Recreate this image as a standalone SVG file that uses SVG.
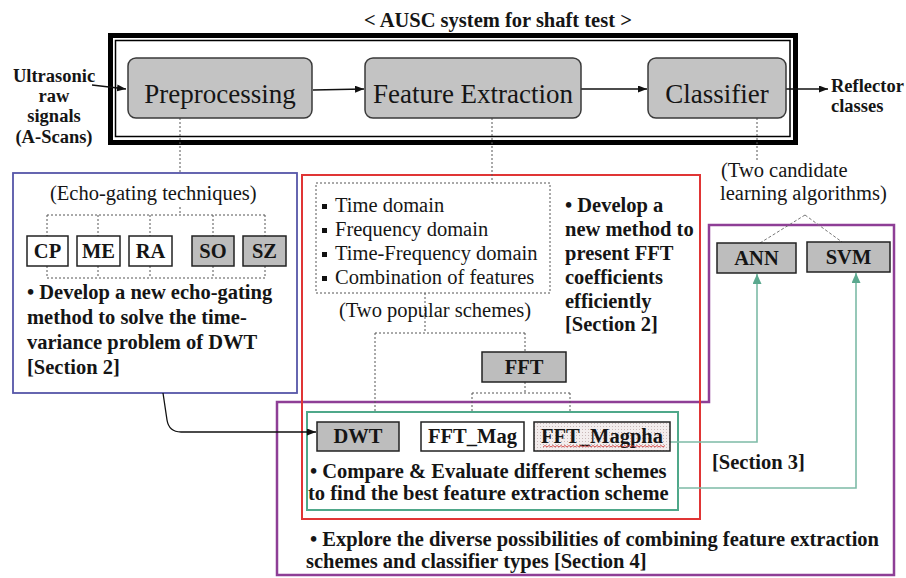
<svg xmlns="http://www.w3.org/2000/svg" width="906" height="578" viewBox="0 0 906 578">
  <defs>
    <style>
      text { font-family: "Liberation Serif", "Times New Roman", serif; fill: #151515; }
      .b { font-weight: bold; }
      .n { font-size: 20.5px; }
      .big { font-size: 27px; }
      .lbl { font-size: 18.5px; font-weight: bold; }
      .mid { text-anchor: middle; }
      .stage { fill: #c3c3c3; stroke: #3a3a3a; stroke-width: 1.5; }
      .box { fill: #ffffff; stroke: #222; stroke-width: 1.5; }
      .gbox { fill: #bdbdbd; stroke: #222; stroke-width: 1.5; }
      .dot { fill: none; stroke: #555; stroke-width: 1; stroke-dasharray: 2 2; }
      .dash { fill: none; stroke: #777; stroke-width: 1; stroke-dasharray: 3 2; }
      .wire { fill: none; stroke: #111; stroke-width: 1.3; }
      .teal { fill: none; stroke: #7dbba7; stroke-width: 1.6; }
    </style>
    <marker id="ah" viewBox="0 0 9 7" refX="9" refY="3.5" markerWidth="9" markerHeight="7" markerUnits="userSpaceOnUse" orient="auto">
      <path d="M0,0 L9,3.5 L0,7 z" fill="#111"/>
    </marker>
    <marker id="ahg" viewBox="0 0 10 9" refX="10" refY="4.5" markerWidth="10" markerHeight="9" markerUnits="userSpaceOnUse" orient="auto">
      <path d="M0,0 L10,4.5 L0,9 z" fill="#5aa88e"/>
    </marker>
    <pattern id="stip" width="3" height="3" patternUnits="userSpaceOnUse">
      <rect width="3" height="3" fill="#f3eded"/>
      <rect width="1" height="1" fill="#c9b8b8"/>
    </pattern>
  </defs>

  <rect width="906" height="578" fill="#ffffff"/>

  <!-- title and system frame -->
  <text class="b" x="364" y="27" font-size="20.5">&lt; AUSC system for shaft test &gt;</text>
  <g id="system-frame">
    <rect x="110.5" y="35.5" width="685" height="107" fill="none" stroke="#000" stroke-width="5"/>
    <rect x="115.5" y="40.5" width="674.5" height="96" fill="none" stroke="#000" stroke-width="1.5"/>
  </g>

  <!-- region outlines -->
  <g id="region-classifiers">
    <path d="M709,225 H894 V575 H277 V402 H709 Z" fill="none" stroke="#8e3e96" stroke-width="2.5"/>
  </g>
  <g id="region-echo">
    <rect x="13" y="173" width="284" height="220" fill="none" stroke="#5656a8" stroke-width="1.8"/>
  </g>
  <g id="region-features">
    <rect x="302" y="175" width="398" height="344" fill="none" stroke="#e03535" stroke-width="2"/>
  </g>
  <g id="region-schemes">
    <rect x="307" y="412" width="371" height="98" fill="none" stroke="#4fa88a" stroke-width="2"/>
  </g>

  <!-- connectors -->
  <g id="connectors">
    <path class="wire" d="M92,85 L126,89" marker-end="url(#ah)"/>
    <path class="wire" d="M313,90 L364,89" marker-end="url(#ah)"/>
    <path class="wire" d="M581,89 L647,89" marker-end="url(#ah)"/>
    <path class="wire" d="M786,89 L828,89" marker-end="url(#ah)"/>

    <path class="dot" d="M180,118 V173"/>
    <path class="dot" d="M492,118 V183"/>
    <path class="dot" d="M757,118 V162"/>

    <!-- echo-gating bracket -->
    <path class="dot" d="M180,207 V215 M47,215 H265 M47,215 V236 M98,215 V236 M150,215 V236 M213,215 V236 M265,215 V236"/>
    <path class="dot" d="M47,266 V278 M98,266 V278 M150,266 V278 M213,266 V278 M265,266 V278 M47,278 H265"/>

    <!-- feature scheme tree -->
    <path class="dot" d="M425,293 V333 M375,333 H525 M375,333 V412 M525,333 V352"/>
    <path class="dot" d="M525,382 V393 M472,393 H570 M472,393 V412 M570,393 V412"/>

    <!-- classifier candidates -->
    <path class="dash" d="M805,215 L760,243 M805,215 L842,242"/>

    <!-- echo-gating result feeds DWT -->
    <path class="wire" d="M163,393 L167,420 Q169,432 181,432 L316,432" marker-end="url(#ah)"/>

    <!-- schemes to classifiers -->
    <path class="teal" d="M670,442 H757 V274" marker-end="url(#ahg)"/>
    <path class="teal" d="M678,488 H856 V273" marker-end="url(#ahg)"/>
  </g>

  <!-- pipeline stages -->
  <g id="node-input">
    <text class="lbl mid" x="54" y="82">Ultrasonic</text>
    <text class="lbl mid" x="54" y="102">raw</text>
    <text class="lbl mid" x="54" y="122">signals</text>
    <text class="lbl mid" x="54" y="143">(A-Scans)</text>
  </g>
  <g id="node-preprocessing">
    <rect class="stage" x="128" y="58" width="184" height="60" rx="8"/>
    <text class="big mid" x="220" y="103">Preprocessing</text>
  </g>
  <g id="node-feature-extraction">
    <rect class="stage" x="365" y="58" width="216" height="60" rx="8"/>
    <text class="big mid" x="473" y="103">Feature Extraction</text>
  </g>
  <g id="node-classifier">
    <rect class="stage" x="648" y="58" width="138" height="60" rx="8"/>
    <text class="big mid" x="717" y="103">Classifier</text>
  </g>
  <g id="node-output">
    <text class="lbl" x="831" y="92">Reflector</text>
    <text class="lbl" x="831" y="112">classes</text>
  </g>

  <!-- echo-gating techniques -->
  <g id="node-echo-gating">
    <text class="n" x="50" y="200">(Echo-gating techniques)</text>
    <rect class="box" x="27" y="236" width="41" height="30"/>
    <text class="n b mid" x="47.5" y="258">CP</text>
    <rect class="box" x="77" y="236" width="43" height="30"/>
    <text class="n b mid" x="98.5" y="258">ME</text>
    <rect class="box" x="129" y="236" width="43" height="30"/>
    <text class="n b mid" x="150.5" y="258">RA</text>
    <rect class="gbox" x="192" y="236" width="42" height="30"/>
    <text class="n b mid" x="213" y="258">SO</text>
    <rect class="gbox" x="243" y="236" width="43" height="30"/>
    <text class="n b mid" x="264.5" y="258">SZ</text>
    <text class="n b" x="27" y="299">• Develop a new echo-gating</text>
    <text class="n b" x="27" y="324">method to solve the time-</text>
    <text class="n b" x="27" y="349">variance problem of DWT</text>
    <text class="n b" x="27" y="374">[Section 2]</text>
  </g>

  <!-- feature domains -->
  <g id="node-domains">
    <rect x="316" y="183" width="234" height="110" fill="none" stroke="#555" stroke-width="1" stroke-dasharray="2 2"/>
    <rect x="322" y="204" width="5" height="5" fill="#111"/>
    <text class="n" x="335" y="212">Time domain</text>
    <rect x="322" y="228" width="5" height="5" fill="#111"/>
    <text class="n" x="335" y="236">Frequency domain</text>
    <rect x="322" y="252" width="5" height="5" fill="#111"/>
    <text class="n" x="335" y="260">Time-Frequency domain</text>
    <rect x="322" y="276" width="5" height="5" fill="#111"/>
    <text class="n" x="335" y="284">Combination of features</text>
    <text class="n mid" x="435" y="317">(Two popular schemes)</text>
  </g>

  <g id="node-fft-note">
    <text class="n b" x="565" y="212">• Develop a</text>
    <text class="n b" x="565" y="236">new method to</text>
    <text class="n b" x="565" y="260">present FFT</text>
    <text class="n b" x="565" y="284">coefficients</text>
    <text class="n b" x="565" y="308">efficiently</text>
    <text class="n b" x="565" y="331">[Section 2]</text>
  </g>

  <g id="node-fft">
    <rect class="gbox" x="482" y="352" width="84" height="30"/>
    <text class="n b mid" x="524" y="374">FFT</text>
  </g>

  <!-- feature extraction schemes -->
  <g id="node-dwt">
    <rect class="gbox" x="317" y="422" width="82" height="29"/>
    <text class="n b mid" x="358" y="443">DWT</text>
  </g>
  <g id="node-fft-mag">
    <rect class="box" x="421" y="422" width="103" height="29"/>
    <text class="n b mid" x="472.5" y="443">FFT_Mag</text>
  </g>
  <g id="node-fft-magpha">
    <rect x="534" y="422" width="136" height="29" fill="url(#stip)" stroke="#222" stroke-width="1.5"/>
    <text class="n b mid" x="602" y="443">FFT_Magpha</text>
    <path d="M543,447 l2,-1.5 l2,1.5 l2,-1.5 l2,1.5 l2,-1.5 l2,1.5 l2,-1.5 l2,1.5 l2,-1.5 l2,1.5 l2,-1.5 l2,1.5 l2,-1.5 l2,1.5 l2,-1.5 l2,1.5 l2,-1.5 l2,1.5 l2,-1.5 l2,1.5 l2,-1.5 l2,1.5 l2,-1.5 l2,1.5 l2,-1.5 l2,1.5 l2,-1.5 l2,1.5 l2,-1.5 l2,1.5 l2,-1.5 l2,1.5 l2,-1.5 l2,1.5 l2,-1.5 l2,1.5 l2,-1.5 l2,1.5 l2,-1.5 l2,1.5 l2,-1.5 l2,1.5 l2,-1.5 l2,1.5 l2,-1.5 l2,1.5 l2,-1.5 l2,1.5 l2,-1.5 l2,1.5 l2,-1.5 l2,1.5 l2,-1.5 l2,1.5 l2,-1.5 l2,1.5 l2,-1.5 l2,1.5 l2,-1.5 l2,1.5 l2,-1.5" fill="none" stroke="#d23c3c" stroke-width="0.9"/>
  </g>
  <g id="node-compare-note">
    <text class="n b" x="310" y="478">• Compare &amp; Evaluate different schemes</text>
    <text class="n b" x="308" y="500">to find the best feature extraction scheme</text>
  </g>

  <!-- classifiers -->
  <g id="node-candidates">
    <text class="n" x="721" y="177">(Two candidate</text>
    <text class="n" x="720" y="200">learning algorithms)</text>
  </g>
  <g id="node-ann">
    <rect class="gbox" x="717" y="243" width="79" height="30"/>
    <text class="n b mid" x="756.5" y="265">ANN</text>
  </g>
  <g id="node-svm">
    <rect class="gbox" x="807" y="242" width="83" height="30"/>
    <text class="n b mid" x="848.5" y="264">SVM</text>
  </g>
  <g id="node-section3">
    <text class="n b" x="712" y="469">[Section 3]</text>
  </g>
  <g id="node-explore-note">
    <text class="n b" x="310" y="546">• Explore the diverse possibilities of combining feature extraction</text>
    <text class="n b" x="306" y="568">schemes and classifier types [Section  4]</text>
  </g>
</svg>
